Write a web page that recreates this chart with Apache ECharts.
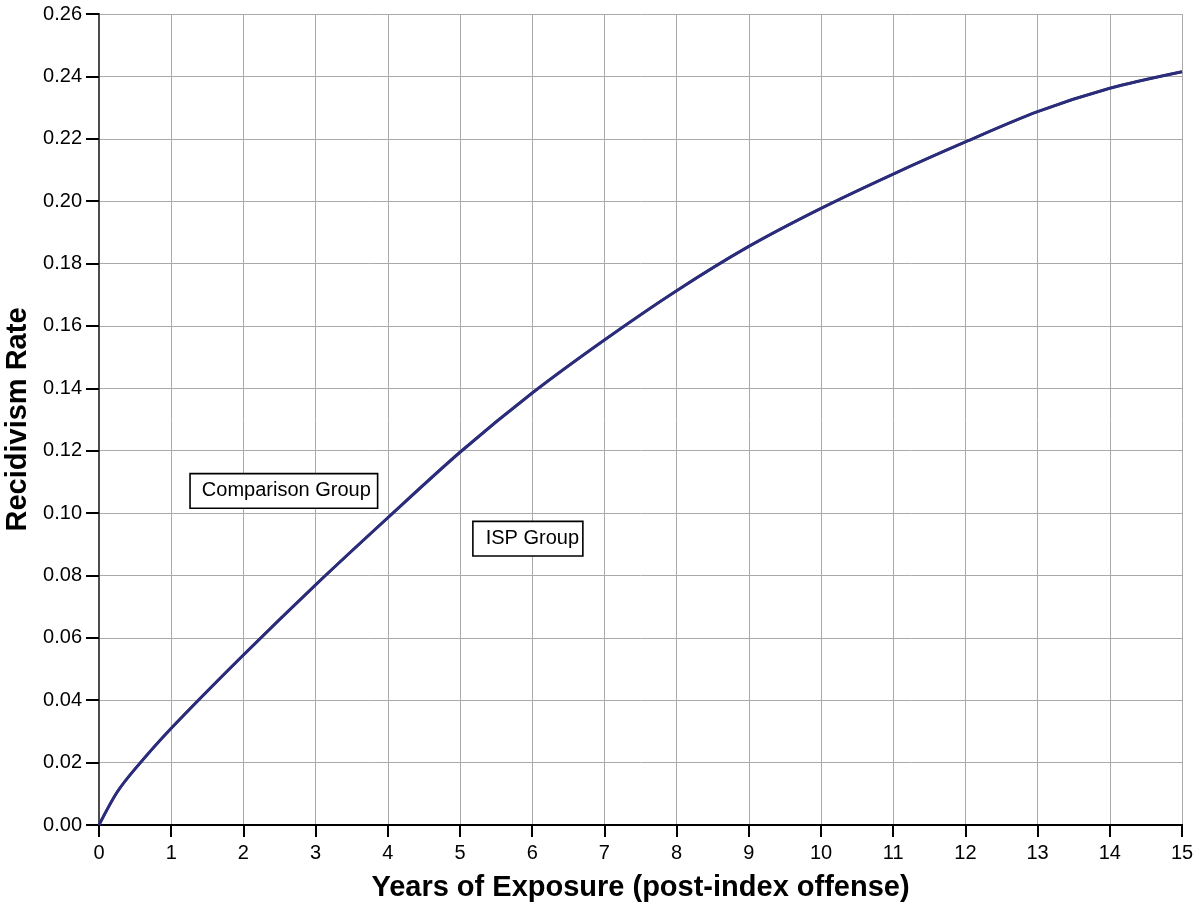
<!DOCTYPE html>
<html>
<head>
<meta charset="utf-8">
<script src="https://cdn.jsdelivr.net/npm/echarts@6/dist/echarts.min.js"></script>
<style>html,body{margin:0;padding:0;background:#fff}#c{width:1200px;height:909px}</style>
</head>
<body>
<div id="c"></div>
<script>
var years = [0, 0.25, 0.5, 1, 2, 3, 4, 5, 6, 7, 8, 9, 10, 11, 12, 13, 14, 15];
var comparisonRate = [0, 0.0105, 0.018, 0.031, 0.0545, 0.077, 0.0985, 0.1195, 0.1385, 0.1555, 0.1713, 0.1855, 0.1977, 0.2087, 0.219, 0.2287, 0.2362, 0.2415];
var ispRate = [0, 0.0105, 0.018, 0.031, 0.0545, 0.077, 0.0985, 0.1195, 0.1385, 0.1555, 0.1713, 0.1855, 0.1977, 0.2087, 0.219, 0.2287, 0.2362, 0.2415];
var labelComparison = {name: 'Comparison Group', x: 2.56, y: 0.1071};
var labelISP = {name: 'ISP Group', x: 5.94, y: 0.0918};

var font = 'Liberation Sans, Arial, sans-serif';
function pairs(xs, ys){ return xs.map(function(x,i){ return [x, ys[i]]; }); }
function boxLabel(l, pad){
  return {
    coord: [l.x, l.y], symbol: 'rect', symbolSize: 0,
    label: {show: true, position: 'inside', formatter: l.name, color: '#000', fontFamily: font, fontSize: 20,
      backgroundColor: '#fff', borderColor: '#000', borderWidth: 1.6, padding: pad}
  };
}
var chart = echarts.init(document.getElementById('c'), null, {renderer: 'canvas'});
chart.setOption({
  animation: false,
  backgroundColor: '#fff',
  grid: {left: 99, right: 18, top: 14, bottom: 84, containLabel: false, outerBoundsMode: 'none'},
  xAxis: [{
    type: 'value', min: 0, max: 15, interval: 1,
    name: 'Years of Exposure (post-index offense)', nameLocation: 'middle', nameGap: 48,
    nameTextStyle: {fontFamily: font, fontSize: 29, fontWeight: 'bold', color: '#000'},
    axisLine: {show: true, onZero: false, lineStyle: {color: '#000', width: 2}},
    axisTick: {show: true, length: 12, lineStyle: {color: '#000', width: 2}},
    axisLabel: {fontFamily: font, fontSize: 20, color: '#000', margin: 18},
    splitLine: {show: true, lineStyle: {color: '#aaa', width: 1}}
  }, {
    type: 'value', position: 'top', min: 0, max: 15,
    axisLine: {show: true, lineStyle: {color: '#000', width: 2}},
    axisTick: {show: false}, axisLabel: {show: false}, splitLine: {show: false}
  }],
  yAxis: [{
    type: 'value', min: 0, max: 0.26, interval: 0.02,
    name: 'Recidivism Rate', nameLocation: 'middle', nameGap: 63, nameRotate: 90,
    nameTextStyle: {fontFamily: font, fontSize: 29, fontWeight: 'bold', color: '#000'},
    axisLine: {show: true, onZero: false, lineStyle: {color: '#000', width: 2}},
    axisTick: {show: true, length: 13, lineStyle: {color: '#000', width: 2}},
    axisLabel: {fontFamily: font, fontSize: 20, color: '#000', margin: 17, formatter: function(v){ return v.toFixed(2); }},
    splitLine: {show: true, lineStyle: {color: '#aaa', width: 1}}
  }, {
    type: 'value', position: 'right', min: 0, max: 0.26,
    axisLine: {show: true, lineStyle: {color: '#666', width: 1.5}},
    axisTick: {show: false}, axisLabel: {show: false}, splitLine: {show: false}
  }],
  series: [{
    name: 'Comparison Group', type: 'line', data: pairs(years, comparisonRate), smooth: 0.3,
    showSymbol: false, lineStyle: {color: '#2b2d7a', width: 3},
    markPoint: {silent: true, data: [boxLabel(labelComparison, [7, 6, 6, 11])]}
  }, {
    name: 'ISP Group', type: 'line', data: pairs(years, ispRate), smooth: 0.3,
    showSymbol: false, lineStyle: {color: '#2b2d7a', width: 2.5},
    markPoint: {silent: true, data: [boxLabel(labelISP, [7, 3, 6, 12])]}
  }]
});
</script>
</body>
</html>
